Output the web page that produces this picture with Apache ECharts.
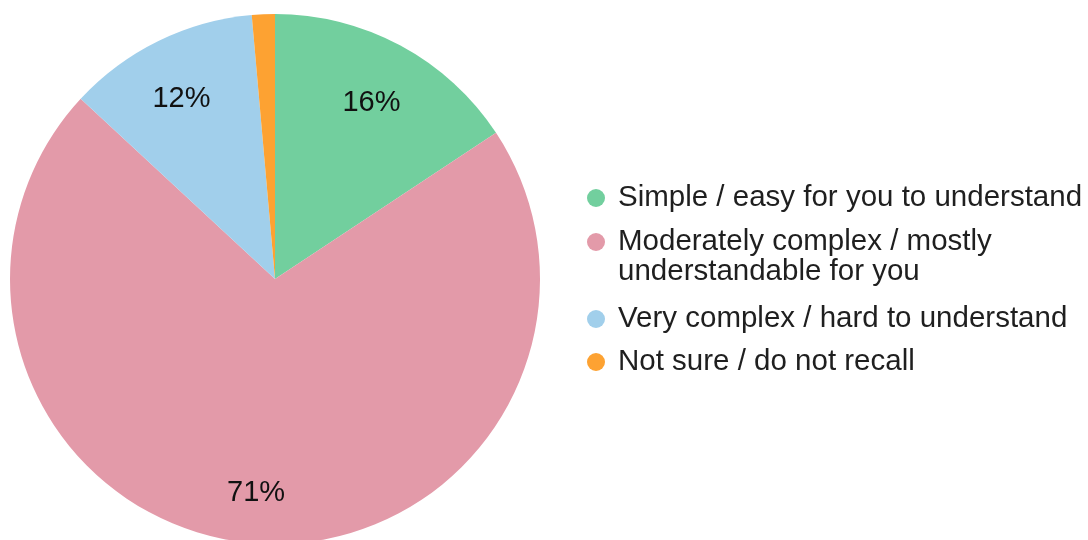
<!DOCTYPE html>
<html>
<head>
<meta charset="utf-8">
<script src="https://cdn.jsdelivr.net/npm/echarts@6/dist/echarts.min.js"></script>
<style>
html,body{margin:0;padding:0;background:#fff;}
#chart{width:1088px;height:540px;}
</style>
</head>
<body>
<div id="chart"></div>
<script>
const categories = [
  'Simple / easy for you to understand',
  'Moderately complex / mostly understandable for you',
  'Very complex / hard to understand',
  'Not sure / do not recall'
];
const values = [15.7, 71.2, 11.7, 1.4];
const colors = ['#72CF9E', '#E39AA9', '#A1CFEB', '#FDA232'];
const labelTexts = ['16%', '71%', '12%', ''];

const font = '"Liberation Sans", Arial, Helvetica, sans-serif';
const chart = echarts.init(document.getElementById('chart'));

const pieData = categories.map((c, i) => ({ name: c, value: values[i], itemStyle: { color: colors[i] } }));
const labelData = categories.map((c, i) => ({ name: c, value: values[i], label: { formatter: labelTexts[i] } }));

const legendTops = [183, 197, 304, 347];
const legends = categories.map((c, i) => ({
  orient: 'vertical',
  left: 587,
  top: legendTops[i],
  padding: 0,
  icon: 'circle',
  itemWidth: 34,
  itemHeight: 18,
  selectedMode: false,
  data: [{ name: c, itemStyle: { color: colors[i] } }],
  formatter: function (n) {
    return n === categories[1] ? '\n' + n.replace(' understandable', '\nunderstandable') : n;
  },
  textStyle: { fontFamily: font, fontSize: 29.5, lineHeight: 30, color: '#1f1f1f' }
}));

chart.setOption({
  animation: false,
  legend: legends,
  series: [
    {
      type: 'pie',
      center: [275, 279],
      radius: 265,
      startAngle: 90,
      clockwise: true,
      label: { show: false },
      labelLine: { show: false },
      emphasis: { disabled: true },
      data: pieData
    },
    {
      type: 'pie',
      center: [275, 279],
      radius: [145, 265],
      startAngle: 90,
      clockwise: true,
      silent: true,
      itemStyle: { color: 'rgba(0,0,0,0)' },
      label: { show: true, position: 'inside', offset: [-2, 7], fontFamily: font, fontSize: 29, color: '#111' },
      labelLine: { show: false },
      emphasis: { disabled: true },
      data: labelData
    }
  ]
});
</script>
</body>
</html>
